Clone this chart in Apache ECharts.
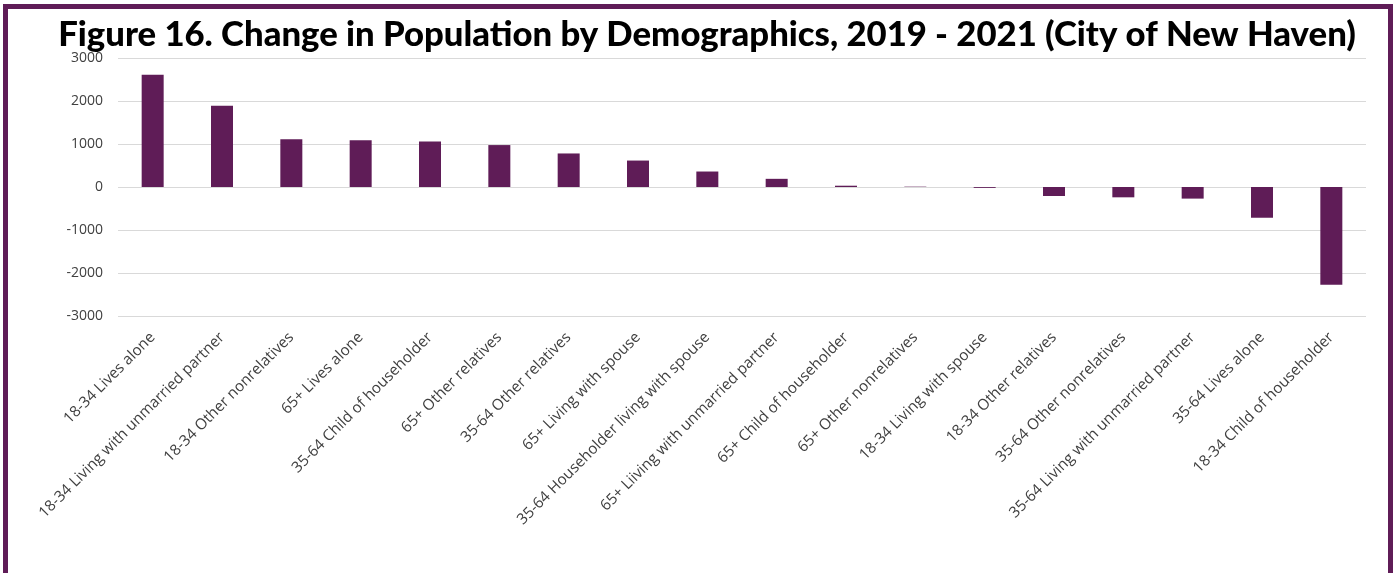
<!DOCTYPE html>
<html>
<head>
<meta charset="utf-8">
<script src="https://cdn.jsdelivr.net/npm/echarts@6/dist/echarts.min.js"></script>
<style>
    html, body { margin: 0; padding: 0; background: #fff; }
    #main { position: absolute; left: 0; top: 0; width: 1394px; height: 573px; }
    #frame {
        position: absolute; left: 3px; top: 4px; width: 1390px; height: 620px;
        box-sizing: border-box; border: 5px solid #5f1c57; pointer-events: none;
    }
</style>
</head>
<body>
<div id="main"></div>
<div id="frame"></div>
<script>
// categories, in the order they appear on the axis
var categories = [
    '18-34 Lives alone',
    '18-34 Living with unmarried partner',
    '18-34 Other nonrelatives',
    '65+ Lives alone',
    '35-64 Child of householder',
    '65+ Other relatives',
    '35-64 Other relatives',
    '65+ Living with spouse',
    '35-64 Householder living with spouse',
    '65+ Liiving with unmarried partner',
    '65+ Child of householder',
    '65+ Other nonrelatives',
    '18-34 Living with spouse',
    '18-34 Other relatives',
    '35-64 Other nonrelatives',
    '35-64 Living with unmarried partner',
    '35-64 Lives alone',
    '18-34 Child of householder'
];
// change in population 2019 - 2021
var changeValues = [2610, 1890, 1110, 1090, 1060, 975, 780, 615, 360, 190, 30, 8, -20, -210, -240, -270, -715, -2275];
var yTicks = { min: -3000, max: 3000, step: 1000 };

var chart = echarts.init(document.getElementById('main'));
var option = {
    animation: false,
    title: {
        text: 'Figure 16. Change in Population by Demographics, 2019 - 2021 (City of New Haven)',
        left: 702,
        textAlign: 'center',
        top: 12,
        textStyle: {
            fontFamily: 'Lato',
            fontWeight: 900,
            fontSize: 34.7,
            color: '#000'
        }
    },
    grid: {
        left: 118,
        right: 28,
        top: 58,
        bottom: 573 - 316
    },
    xAxis: {
        type: 'category',
        data: categories,
        axisLine: { show: false },
        axisTick: { show: false },
        axisLabel: {
            interval: 0,
            rotate: 45,
            margin: 19,
            fontFamily: 'Open Sans',
            fontSize: 15.2,
            color: '#404040'
        }
    },
    yAxis: {
        type: 'value',
        min: yTicks.min,
        max: yTicks.max,
        interval: yTicks.step,
        axisLine: { show: false },
        axisTick: { show: false },
        axisLabel: {
            margin: 15,
            fontFamily: 'Open Sans',
            fontSize: 14,
            color: '#404040',
            formatter: function (v) { return String(v); }
        },
        splitLine: { lineStyle: { color: '#d9d9d9', width: 1 } }
    },
    series: [{
        type: 'bar',
        data: changeValues,
        barWidth: 22,
        itemStyle: { color: '#5f1c57' }
    }]
};
chart.setOption(option);
</script>
</body>
</html>
